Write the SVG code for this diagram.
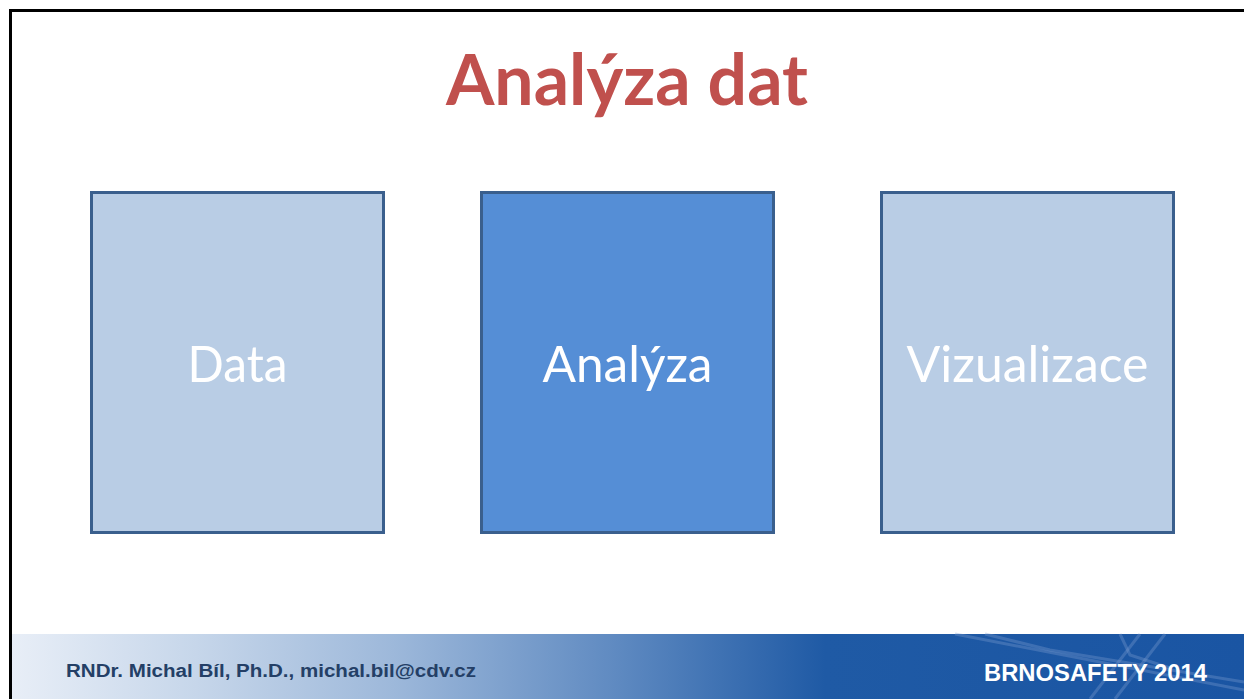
<svg xmlns="http://www.w3.org/2000/svg" width="1244" height="699" viewBox="0 0 1244 699">
<defs>
<linearGradient id="foot" x1="12" y1="0" x2="1244" y2="0" gradientUnits="userSpaceOnUse">
<stop offset="0" stop-color="#e8eef7"/>
<stop offset="0.15" stop-color="#c6d6ea"/>
<stop offset="0.31" stop-color="#9db8da"/>
<stop offset="0.49" stop-color="#5f8ac1"/>
<stop offset="0.66" stop-color="#1f5aa5"/>
<stop offset="1" stop-color="#1a55a3"/>
</linearGradient>
<style>
.box{stroke:#3a5f8d;stroke-width:3}
.light{fill:#b9cde5}
.dark{fill:#558ed6}
.lbl{font-family:Lato,"Open Sans","Liberation Sans",sans-serif;font-size:50px;fill:#ffffff;text-anchor:middle}
.foot{font-family:"Liberation Sans",Arial,sans-serif;font-weight:bold}
</style>
</defs>
<rect width="1244" height="699" fill="#ffffff"/>
<path d="M10.5 699 V10.5 H1244" fill="none" stroke="#000" stroke-width="3"/>
<rect x="12" y="634" width="1232" height="65" fill="url(#foot)"/>
<g fill="none" stroke="#7f9ed0" stroke-opacity="0.35" stroke-width="3">
<path d="M955 634 L1244 690"/>
<path d="M985 634 L1050 650 L1244 682"/>
<path d="M1120 634 L1130 655 L1170 668"/>
<path d="M1140 634 L1090 699"/>
<path d="M1165 634 L1115 699"/>
</g>
<text x="446" y="105" font-family="Lato,'Open Sans','Liberation Sans',sans-serif" font-weight="bold" font-size="70" fill="#c0504d" textLength="362" lengthAdjust="spacingAndGlyphs">Analýza dat</text>
<g id="node-data">
<rect class="box light" x="91.5" y="192.5" width="292" height="340"/>
<text class="lbl" x="237.5" y="382" textLength="100" lengthAdjust="spacingAndGlyphs">Data</text>
</g>
<g id="node-analyza">
<rect class="box dark" x="481.5" y="192.5" width="292" height="340"/>
<text class="lbl" x="627.5" y="382" textLength="170" lengthAdjust="spacingAndGlyphs">Analýza</text>
</g>
<g id="node-vizualizace">
<rect class="box light" x="881.5" y="192.5" width="292" height="340"/>
<text class="lbl" x="1027.5" y="382" textLength="242" lengthAdjust="spacingAndGlyphs">Vizualizace</text>
</g>
<g id="connectors"></g>
<text class="foot" x="66" y="677" font-size="17.5" fill="#243f66" textLength="410" lengthAdjust="spacingAndGlyphs">RNDr. Michal Bíl, Ph.D., michal.bil@cdv.cz</text>
<text class="foot" x="984" y="681" font-size="24" fill="#ffffff" textLength="223" lengthAdjust="spacingAndGlyphs">BRNOSAFETY 2014</text>
</svg>
